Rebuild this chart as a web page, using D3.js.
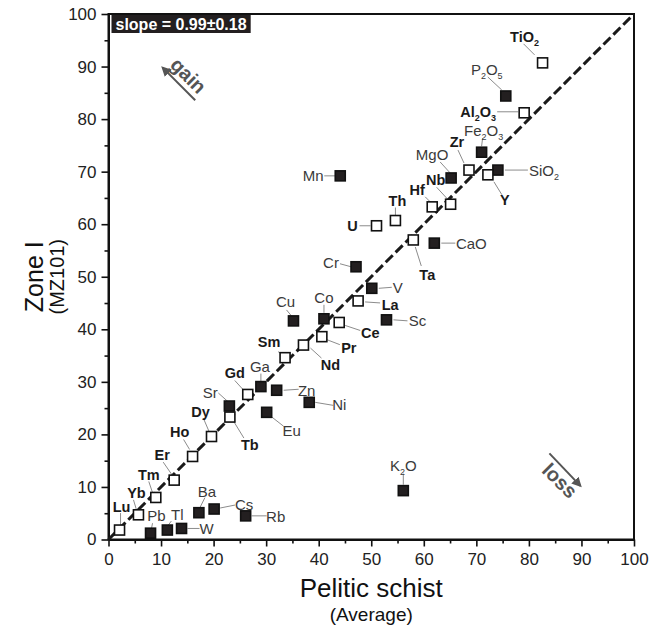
<!DOCTYPE html>
<html>
<head>
<meta charset="utf-8">
<script src="https://cdn.jsdelivr.net/npm/d3@7"></script>
<style>
  body { margin: 0; background: #fff; }
  svg { font-family: "Liberation Sans", Arial, sans-serif; }
</style>
</head>
<body>
<svg></svg>
<script>
// filled squares: majors + trace elements with regular labels
const filledNames = ['P2O5', 'Fe2O3', 'SiO2', 'MgO', 'Mn', 'CaO', 'Cr', 'V', 'Co', 'Cu', 'Sc', 'Ga', 'Zn', 'Sr', 'Ni', 'Eu', 'K2O', 'Ba', 'Cs', 'Rb', 'Pb', 'Tl', 'W'];
const filledPelitic = [75.6, 71.0, 74.1, 65.2, 44.1, 62.0, 47.1, 50.1, 41.0, 35.2, 52.9, 29.0, 32.0, 23.0, 38.2, 30.1, 56.1, 17.2, 20.1, 26.1, 8.0, 11.2, 13.9];
const filledZone = [84.4, 73.7, 70.3, 68.8, 69.2, 56.4, 51.9, 47.8, 42.0, 41.6, 41.8, 29.1, 28.4, 25.4, 26.1, 24.2, 9.3, 5.1, 5.8, 4.5, 1.2, 1.8, 2.1];

// open squares: bold labels
const openNames = ['TiO2', 'Al2O3', 'Zr', 'Y', 'Nb', 'Hf', 'Th', 'U', 'Ta', 'La', 'Ce', 'Pr', 'Nd', 'Sm', 'Gd', 'Tb', 'Dy', 'Ho', 'Er', 'Tm', 'Yb', 'Lu'];
const openPelitic = [82.6, 79.1, 68.6, 72.2, 65.1, 61.6, 54.6, 51.0, 58.0, 47.5, 43.9, 40.6, 37.1, 33.6, 26.5, 23.1, 19.6, 16.0, 12.5, 9.0, 5.7, 2.1];
const openZone = [90.7, 81.2, 70.3, 69.4, 63.8, 63.3, 60.7, 59.7, 57.0, 45.4, 41.3, 38.6, 37.0, 34.6, 27.6, 23.3, 19.6, 15.8, 11.3, 8.0, 4.7, 1.8];

const majorTicks = d3.range(0, 101, 10);
const minorTicks = d3.range(5, 100, 10);
const isocon = [[0, 0], [100, 100]];
const slopeText = 'slope = 0.99\u00b10.18';

// label placement: text x, text baseline y, leader x1, y1, x2, y2 (px from the square)
const labelLayout = {
  TiO2: [-18, -21, -19, -19, -8, -8],
  P2O5: [-19, -21, -18, -19, -4, -6],
  Al2O3: [-46, 4, -27, -1, -6, -1],
  Fe2O3: [2, -16, 1, -14, 0, -6],
  Zr: [-12, -23, -11, -20, -5, -7],
  MgO: [-19, -18, -11, -16, -1, -5],
  SiO2: [46, 6, 7, 0, 30, 0],
  Y: [17, 30, 6, 7, 14, 20],
  Nb: [-15, -19, -14, -17, -2, -4],
  Hf: [-15, -12, -7, -10, -1, -4],
  Th: [2, -15, 0, -13, 0, -5],
  U: [-24, 5, -17, 0, -6, 0],
  Ta: [14, 40, 2, 7, 8, 26],
  CaO: [37, 6, 7, 0, 21, 0],
  Mn: [-27, 5, -16, 0, -5, 0],
  Cr: [-25, 1, -16, -3, -5, 0],
  V: [26, 5, 7, 0, 20, -1],
  La: [32, 9, 7, 1, 22, 2],
  Sc: [31, 6, 7, 0, 21, 1],
  Co: [0, -16, 0, -14, 0, -6],
  Cu: [-8, -14, -7, -11, -2, -5],
  Ce: [31, 16, 6, 3, 21, 8],
  Pr: [27, 16, 5, 3, 18, 8],
  Nd: [27, 25, 7, 3, 18, 13],
  Sm: [-16, -11, -7, -6, -2, -3],
  Ga: [-1, -15, 0, -13, 0, -5],
  Gd: [-13, -16, -13, -14, -3, -3],
  Zn: [30, 6, 7, 0, 22, -1],
  Sr: [-19, -8, -11, -13, -1, -4],
  Ni: [30, 8, 6, 0, 24, 3],
  Eu: [25, 24, 3, 3, 17, 14],
  Tb: [20, 33, 3, 3, 14, 21],
  Dy: [-11, -20, -8, -18, -2, -4],
  Ho: [-13, -19, -9, -17, -3, -7],
  Er: [-12, -20, -11, -18, -2, -5],
  Tm: [-7, -17, -7, -16, -3, -4],
  Yb: [-2, -17, -5, -15, -2, -5],
  Lu: [2, -18, 1, -17, 1, -5],
  Pb: [6, -12, 2, -10, 1, -5],
  Tl: [10, -10, 4, -9, 1, -5],
  W: [25, 6, 6, 0, 18, 0],
  Ba: [8, -16, 6, -15, 1, -5],
  Cs: [30, 1, 6, -1, 21, -4],
  Rb: [30, 6, 6, 0, 21, 0],
  K2O: [0, -20, 0, -17, 0, -6]
};

const width = 656;
const height = 627;
const margin = { top: 14, right: 22, bottom: 87.5, left: 108.5 };

const svg = d3.select('svg')
  .attr('width', width)
  .attr('height', height);

const xScale = d3.scaleLinear()
  .domain([0, 100])
  .range([margin.left, width - margin.right]);

const yScale = d3.scaleLinear()
  .domain([0, 100])
  .range([height - margin.bottom, margin.top]);

const points = filledNames.map((n, i) => ({ name: n, x: filledPelitic[i], y: filledZone[i], open: false }))
  .concat(openNames.map((n, i) => ({ name: n, x: openPelitic[i], y: openZone[i], open: true })));

// frame
svg.append('rect')
  .attr('x', xScale(0))
  .attr('y', yScale(100))
  .attr('width', xScale(100) - xScale(0))
  .attr('height', yScale(0) - yScale(100))
  .attr('fill', 'none')
  .attr('stroke', '#111')
  .attr('stroke-width', 2);

function styleAxis(g) {
  g.select('.domain').attr('stroke', '#111').attr('stroke-width', 2);
  g.selectAll('.tick line').attr('stroke', '#111').attr('stroke-width', 1.6);
  g.selectAll('.tick text').attr('fill', '#222').style('font-size', '17px');
}

svg.append('g')
  .attr('transform', `translate(0,${yScale(0)})`)
  .call(d3.axisBottom(xScale).tickValues(minorTicks).tickSize(4).tickSizeOuter(0).tickFormat(''))
  .call(styleAxis);

svg.append('g')
  .attr('id', 'x-axis')
  .attr('transform', `translate(0,${yScale(0)})`)
  .call(d3.axisBottom(xScale).tickValues(majorTicks).tickSize(7).tickSizeOuter(0).tickPadding(6))
  .call(styleAxis);

svg.append('g')
  .attr('transform', `translate(${xScale(0)},0)`)
  .call(d3.axisLeft(yScale).tickValues(minorTicks).tickSize(4).tickSizeOuter(0).tickFormat(''))
  .call(styleAxis);

svg.append('g')
  .attr('id', 'y-axis')
  .attr('transform', `translate(${xScale(0)},0)`)
  .call(d3.axisLeft(yScale).tickValues(majorTicks).tickSize(7).tickSizeOuter(0).tickPadding(5))
  .call(styleAxis);

// axis titles
const midX = (xScale(0) + xScale(100)) / 2;
const midY = (yScale(0) + yScale(100)) / 2;

svg.append('text')
  .attr('x', midX).attr('y', 597)
  .attr('text-anchor', 'middle')
  .style('font-size', '26px').attr('fill', '#111')
  .text('Pelitic schist');

svg.append('text')
  .attr('x', midX).attr('y', 621)
  .attr('text-anchor', 'middle')
  .style('font-size', '19px').attr('fill', '#111')
  .text('(Average)');

svg.append('text')
  .attr('transform', `translate(43,${midY}) rotate(-90)`)
  .attr('text-anchor', 'middle')
  .style('font-size', '25px').attr('fill', '#111')
  .text('Zone I');

svg.append('text')
  .attr('transform', `translate(64,${midY}) rotate(-90)`)
  .attr('text-anchor', 'middle')
  .style('font-size', '20px').attr('fill', '#111')
  .text('(MZ101)');

// isocon line
svg.append('path')
  .datum(isocon)
  .attr('d', d3.line().x(d => xScale(d[0])).y(d => yScale(d[1])))
  .attr('fill', 'none')
  .attr('stroke', '#1a1a1a')
  .attr('stroke-width', 3)
  .attr('stroke-dasharray', '10,4');

// slope box
const slopeLabel = svg.append('text')
  .attr('x', xScale(0) + 7).attr('y', 30)
  .attr('fill', '#fff')
  .style('font-size', '16px').style('font-weight', 'bold')
  .text(slopeText);
const bb = slopeLabel.node().getBBox();
svg.insert('rect', () => slopeLabel.node())
  .attr('x', xScale(0) + 3).attr('y', bb.y - 1)
  .attr('width', bb.width + 8).attr('height', bb.height + 1)
  .attr('fill', '#231f20');

// gain / loss arrows
const defs = svg.append('defs');
defs.append('marker')
  .attr('id', 'head')
  .attr('viewBox', '0 0 10 10')
  .attr('refX', 8).attr('refY', 5)
  .attr('markerWidth', 5).attr('markerHeight', 5)
  .attr('orient', 'auto')
  .append('path')
  .attr('d', 'M0,0L10,5L0,10Z')
  .attr('fill', '#555');

function arrow(from, to) {
  svg.append('line')
    .attr('x1', xScale(from[0])).attr('y1', yScale(from[1]))
    .attr('x2', xScale(to[0])).attr('y2', yScale(to[1]))
    .attr('stroke', '#555').attr('stroke-width', 2)
    .attr('marker-end', 'url(#head)');
}

function tag(at, txt) {
  svg.append('text')
    .attr('transform', `translate(${xScale(at[0])},${yScale(at[1])}) rotate(45)`)
    .attr('text-anchor', 'middle')
    .attr('dominant-baseline', 'central')
    .attr('fill', '#555')
    .style('font-size', '20px').style('font-weight', 'bold')
    .text(txt);
}

arrow([16.5, 83.6], [10.3, 89.8]);
tag([15.2, 88.3], 'gain');
arrow([83.9, 16.4], [89.8, 10.2]);
tag([85.9, 11.2], 'loss');

// leaders
svg.append('g')
  .selectAll('line')
  .data(points)
  .enter().append('line')
  .attr('x1', d => xScale(d.x) + labelLayout[d.name][2])
  .attr('y1', d => yScale(d.y) + labelLayout[d.name][3])
  .attr('x2', d => xScale(d.x) + labelLayout[d.name][4])
  .attr('y2', d => yScale(d.y) + labelLayout[d.name][5])
  .attr('stroke', '#8c8c8c')
  .attr('stroke-width', 1);

// squares
const size = 10;
svg.append('g')
  .selectAll('rect')
  .data(points)
  .enter().append('rect')
  .attr('x', d => xScale(d.x) - size / 2)
  .attr('y', d => yScale(d.y) - size / 2)
  .attr('width', size)
  .attr('height', size)
  .attr('fill', d => d.open ? '#fff' : '#231f20')
  .attr('stroke', '#111')
  .attr('stroke-width', 1.6);

// labels with subscripts
const labels = svg.append('g')
  .selectAll('text')
  .data(points)
  .enter().append('text')
  .attr('x', d => xScale(d.x) + labelLayout[d.name][0])
  .attr('y', d => yScale(d.y) + labelLayout[d.name][1])
  .attr('text-anchor', 'middle')
  .attr('fill', d => d.open ? '#1a1a1a' : '#3a3a3a')
  .style('font-size', d => d.open ? '14.5px' : '15px')
  .style('font-weight', d => d.open ? 'bold' : 'normal');

labels.each(function (d) {
  const t = d3.select(this);
  let prevSub = false;
  d.name.match(/[A-Za-z]+|\d/g).forEach(p => {
    const sub = /\d/.test(p);
    const ts = t.append('tspan').text(p);
    if (sub) ts.attr('dy', 4).style('font-size', '9px');
    else if (prevSub) ts.attr('dy', -4);
    prevSub = sub;
  });
});
</script>
</body>
</html>
